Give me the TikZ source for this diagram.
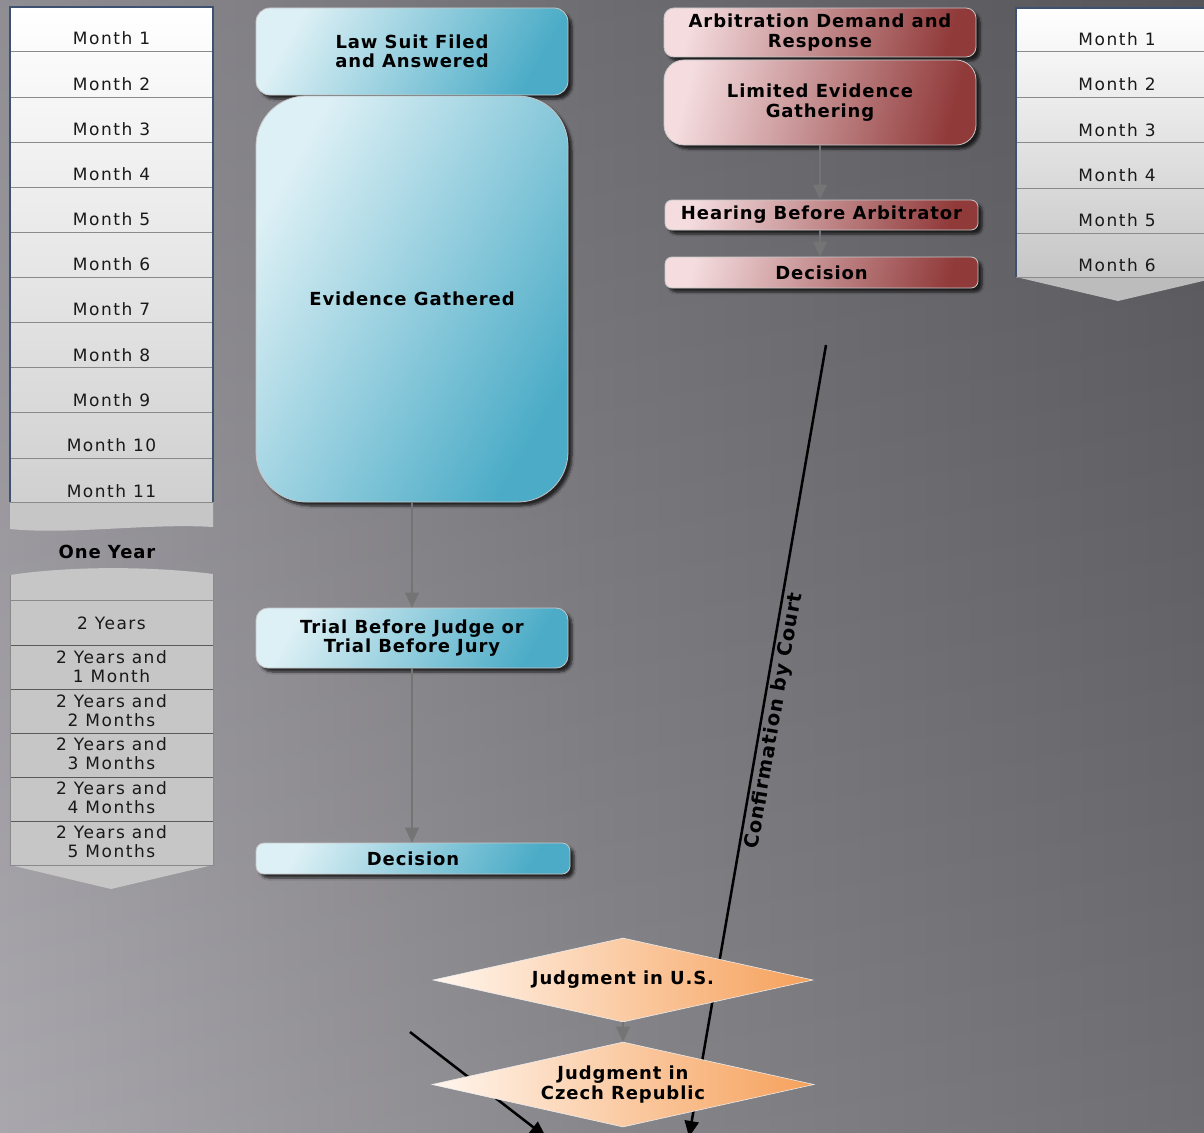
\documentclass[tikz,border=0pt]{standalone}
\usepackage{fontspec}
\setmainfont{DejaVu Sans}
\newfontfamily\mfont{DejaVu Sans}[LetterSpace=9]
\newfontfamily\bfont{DejaVu Sans}[LetterSpace=5]
\usetikzlibrary{shapes.geometric,arrows.meta,shadows.blur,calc}
\definecolor{bgL}{HTML}{A09EA4}
\definecolor{bgM}{HTML}{7A797E}
\definecolor{bgR}{HTML}{5F5E63}
\definecolor{tlgray}{HTML}{D0D0D0}
\definecolor{tlfill}{HTML}{C6C6C6}
\definecolor{tlborder}{HTML}{3F5170}
\definecolor{sepgray}{HTML}{8A8A8A}
\definecolor{blueA}{HTML}{DDF0F5}
\definecolor{blueB}{HTML}{4CACC7}
\definecolor{redA}{HTML}{F4DCDF}
\definecolor{redB}{HTML}{913A3A}
\definecolor{orA}{HTML}{FFF6EE}
\definecolor{orB}{HTML}{F6A05A}
\definecolor{conngray}{HTML}{747474}
\begin{document}
\begin{tikzpicture}[x=1pt,y=-1pt,
  mtext/.style={font=\mfont\fontsize{17}{19}\selectfont, text=black!90, align=center, inner sep=0pt},
  btext/.style={font=\bfont\bfseries\fontsize{18}{19.5}\selectfont, text=black, align=center},
  boxbase/.style={draw=white!55!gray, line width=0.8pt, btext,
    blur shadow={shadow xshift=4pt, shadow yshift=-4pt, shadow blur steps=6, shadow opacity=70}},
  bluebox/.style={boxbase, left color=blueA, right color=blueB, shading angle=60},
  redbox/.style={boxbase, left color=redA, right color=redB, shading angle=75},
  orangedia/.style={diamond, aspect=4.5, inner sep=0pt, draw=white!85!gray, line width=0.6pt,
    left color=orA, right color=orB, btext},
  conn/.style={draw=conngray, line width=1.3pt, -{Triangle[width=14pt,length=15pt]}},
  blackarrow/.style={draw=black, line width=2.5pt, -{Triangle[width=14pt,length=16pt]}},
  sepline/.style={draw=sepgray, line width=1pt},
  darksep/.style={draw=black!65, line width=1pt}
]
\useasboundingbox (0,0) rectangle (1204,1132);
\clip (0,0) rectangle (1204,1132);
% background
\shade[left color=bgL, right color=bgR, middle color=bgM] (0,0) rectangle (1204,1132);
\shade[top color=black, bottom color=white, middle color=gray, opacity=0.10] (0,0) rectangle (1204,1132);

% left timeline, upper part
\shade[top color=white, bottom color=tlgray] (10,7) rectangle (213,502);
\fill[tlfill] (10,502) -- (213,502) -- (213,527) .. controls (150,523) and (70,535) .. (10,529) -- cycle;
\foreach \yy in {52,97,142,187,232,277,322,367,412,458,502}
  \draw[sepline] (10,\yy) -- (213,\yy);
\draw[tlborder, line width=1.2pt] (10,502) -- (10,7) -- (213,7) -- (213,502);
% left timeline, lower part
\fill[tlfill] (10,575) .. controls (70,566) and (150,566) .. (213,574) -- (213,865) -- (111,889) -- (10,865) -- cycle;
\draw[sepline] (10,600) -- (213,600);
\foreach \yy in {645,689,733,777,821}
  \draw[darksep] (10,\yy) -- (213,\yy);
\draw[draw=sepgray, line width=0.8pt] (10,575) -- (10,865) -- (213,865) -- (213,574);

\node[mtext] (l1) at (111.5,38) {Month 1};
\node[mtext] (l2) at (111.5,84) {Month 2};
\node[mtext] (l3) at (111.5,129) {Month 3};
\node[mtext] (l4) at (111.5,174) {Month 4};
\node[mtext] (l5) at (111.5,219) {Month 5};
\node[mtext] (l6) at (111.5,264) {Month 6};
\node[mtext] (l7) at (111.5,309) {Month 7};
\node[mtext] (l8) at (111.5,355) {Month 8};
\node[mtext] (l9) at (111.5,400) {Month 9};
\node[mtext] (l10) at (111.5,445) {Month 10};
\node[mtext] (l11) at (111.5,491) {Month 11};
\node[btext] (oneyear) at (107,552) {One Year};
\node[mtext] (y2) at (111.5,623) {2 Years};
\node[mtext] (y21) at (111.5,666.5) {2 Years and\\1 Month};
\node[mtext] (y22) at (111.5,710.5) {2 Years and\\2 Months};
\node[mtext] (y23) at (111.5,754) {2 Years and\\3 Months};
\node[mtext] (y24) at (111.5,798) {2 Years and\\4 Months};
\node[mtext] (y25) at (111.5,842) {2 Years and\\5 Months};

% right timeline
\shade[top color=white, bottom color=tlfill] (1016,8) rectangle (1220,277);
\fill[tlfill!95!black] (1016,277) -- (1220,277) -- (1118,301) -- cycle;
\foreach \yy in {52,97,142,188,233,277}
  \draw[sepline] (1016,\yy) -- (1220,\yy);
\draw[tlborder, line width=1.2pt] (1016,277) -- (1016,8) -- (1220,8);
\node[mtext] (r1) at (1117,39) {Month 1};
\node[mtext] (r2) at (1117,84) {Month 2};
\node[mtext] (r3) at (1117,130) {Month 3};
\node[mtext] (r4) at (1117,175) {Month 4};
\node[mtext] (r5) at (1117,220) {Month 5};
\node[mtext] (r6) at (1117,265) {Month 6};

% black connectors (behind diamonds)
\coordinate (cs) at (826,345);
\coordinate (ce) at (689,1137);
\coordinate (ls) at (410,1032);
\coordinate (le) at (546,1137);
\draw[blackarrow] (cs) -- node[pos=0.472, sloped, anchor=north, inner sep=2.5pt, btext, font=\bfont\bfseries\fontsize{19.5}{21}\selectfont] (conf) {Confirmation by Court} (ce);
\draw[blackarrow] (ls) -- (le);

% blue column
\node[bluebox, rounded corners=14pt, minimum width=312pt, minimum height=87pt] (law) at (412,51.5) {Law Suit Filed\\and Answered};
\node[bluebox, rounded corners=50pt, minimum width=312pt, minimum height=406pt] (evid) at (412,299) {Evidence Gathered};
\node[bluebox, rounded corners=12pt, minimum width=312pt, minimum height=60pt] (trial) at (412,638) {Trial Before Judge or\\Trial Before Jury};
\node[bluebox, rounded corners=8pt, minimum width=314pt, minimum height=31pt] (dec1) at (413,858.5) {Decision};

% red column
\node[redbox, rounded corners=10pt, minimum width=312pt, minimum height=49pt] (arb) at (820,32.5) {Arbitration Demand and\\Response};
\node[redbox, rounded corners=20pt, minimum width=312pt, minimum height=85pt] (lim) at (820,102.5) {Limited Evidence\\Gathering};
\node[redbox, rounded corners=7pt, minimum width=313pt, minimum height=30pt] (hear) at (821.5,215) {Hearing Before Arbitrator};
\node[redbox, rounded corners=7pt, minimum width=313pt, minimum height=31pt] (dec2) at (821.5,272.5) {Decision};

% diamonds
\node[orangedia, minimum width=380pt, minimum height=84pt] (jus) at (623,980) {Judgment in U.S.};
\node[orangedia, minimum width=382pt, minimum height=85pt] (jcz) at (623,1084.5) {Judgment in\\Czech Republic};

% gray connectors
\draw[conn] (evid.south) -- (trial.north);
\draw[conn] (trial.south) -- (dec1.north -| trial.south);
\draw[conn] (lim.south) -- (lim.south |- hear.north);
\draw[conn] (lim.south |- hear.south) -- (lim.south |- dec2.north);
\draw[conn] (jus.south) -- (jcz.north);
\end{tikzpicture}
\end{document}
